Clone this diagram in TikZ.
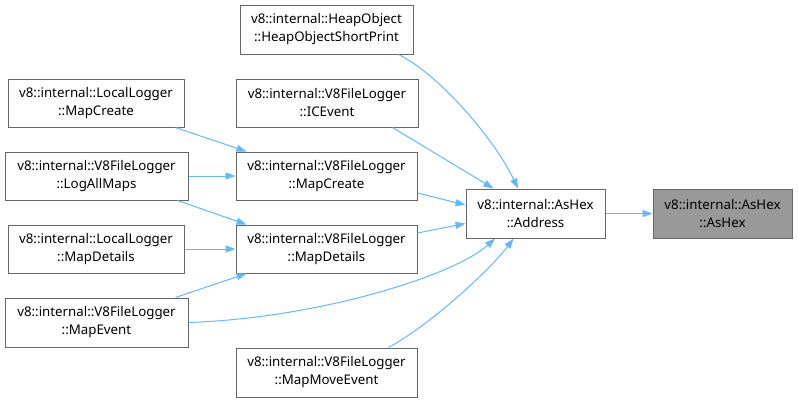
\documentclass[tikz,border=0pt]{standalone}
\usepackage{fontspec}
\setmainfont{Noto Sans}
\usetikzlibrary{arrows.meta}
\definecolor{edgecol}{HTML}{63B8FF}
\definecolor{bordercol}{HTML}{666666}
\definecolor{curfill}{HTML}{999999}
\begin{document}
\begin{tikzpicture}[x=1pt,y=-1pt,
  box/.style={draw=bordercol,line width=1pt,fill=white,inner sep=0pt,minimum height=48pt,
    align=center,font=\fontsize{13.3}{18}\selectfont,text=black},
  wa/.style={box,minimum width=183pt},
  wb/.style={box,minimum width=176pt},
  wc/.style={box,minimum width=181pt},
  wd/.style={box,minimum width=139pt},
  cur/.style={fill=curfill},
  edge/.style={draw=edgecol,line width=1pt,-{Triangle[length=10pt,width=7pt]}}]
\useasboundingbox (0,0) rectangle (798,402);
\node[box,minimum width=173pt,minimum height=49pt] (heap) at (326.5,29.5) {v8::internal::HeapObject\\::HeapObjectShortPrint};
\node[box,minimum width=182pt] (ice) at (327,103) {v8::internal::V8FileLogger\\::ICEvent};
\node[wc] (v8create) at (326.5,176) {v8::internal::V8FileLogger\\::MapCreate};
\node[wc] (v8details) at (326.5,249) {v8::internal::V8FileLogger\\::MapDetails};
\node[wc,minimum height=49pt] (move) at (326.5,372.5) {v8::internal::V8FileLogger\\::MapMoveEvent};
\node[wb] (llcreate) at (96,103) {v8::internal::LocalLogger\\::MapCreate};
\node[wa] (logall) at (96.5,176) {v8::internal::V8FileLogger\\::LogAllMaps};
\node[wb] (lldetails) at (96,249) {v8::internal::LocalLogger\\::MapDetails};
\node[wa,minimum height=49pt] (mapevent) at (96.5,322.5) {v8::internal::V8FileLogger\\::MapEvent};
\node[wd,minimum height=49pt] (address) at (535.5,213.5) {v8::internal::AsHex\\::Address};
\node[wd,cur,minimum height=49pt] (ashex) at (722.5,213.5) {v8::internal::AsHex\\::AsHex};

\draw[edge] ([xshift=-9pt]llcreate.south east) -- ([xshift=11pt]v8create.north west);
\draw[edge] (logall.east) -- (v8create.west);
\draw[edge] ([xshift=-11pt]logall.south east) -- ([xshift=11pt]v8details.north west);
\draw[edge] (lldetails.east) -- (v8details.west);
\draw[edge] ([xshift=-13pt]mapevent.north east) -- ([xshift=11pt]v8details.south west);
\draw[edge] (mapevent.east) .. controls (320,318) and (455,275) .. ([xshift=-40.5pt]address.south);
\draw[edge] ([yshift=-17pt]v8create.east) -- ([yshift=8.5pt]address.west);
\draw[edge] ([yshift=16pt]v8details.east) -- ([yshift=-10pt]address.west);
\draw[edge] ([xshift=-26pt]ice.south east) -- ([xshift=-42pt]address.north);
\draw[edge] ([xshift=-15pt]heap.south east) .. controls (440,75) and (495,140) .. ([xshift=-17.5pt]address.north);
\draw[edge] ([xshift=-29pt]move.north east) .. controls (430,325) and (490,270) .. ([xshift=-22pt]address.south);
\draw[edge] (address.east) -- (ashex.west);
\end{tikzpicture}
\end{document}
